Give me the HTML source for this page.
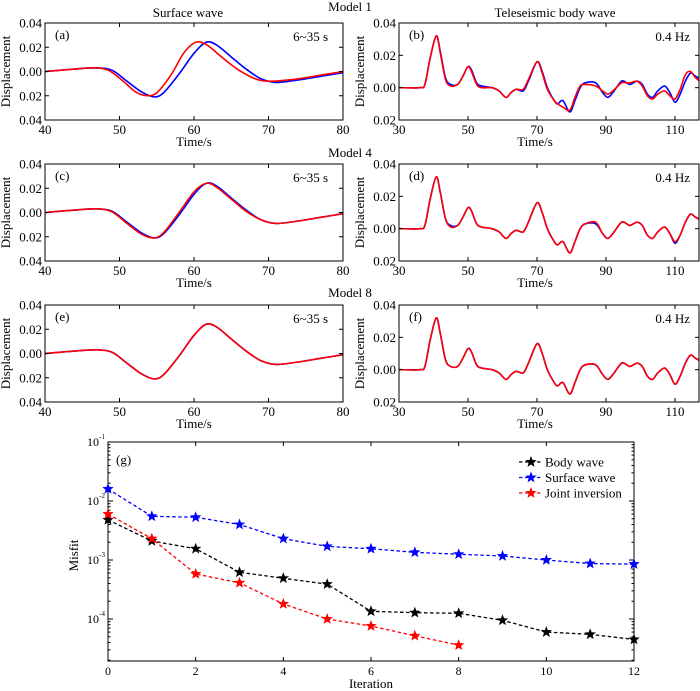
<!DOCTYPE html>
<html><head><meta charset="utf-8">
<style>
body{margin:0;background:#fff;}
svg{display:block;font-family:"Liberation Serif","DejaVu Serif",serif;}
</style></head>
<body>
<svg id="fig" width="700" height="691" viewBox="0 0 700 691"></svg>
<script>
// ---- data ----
const swT   = [40,44,47,49,51,53,54.7,56,58,60,61.6,63,65,67,69,71,74,77,80];
const swBlue= [0,0.002,0.003,0.001,-0.008,-0.017,-0.021,-0.017,-0.002,0.015,0.024,0.022,0.012,0.002,-0.006,-0.009,-0.007,-0.004,-0.001];
const swTRed1=[40,44,46.5,48.5,50.5,52.2,53.8,55.1,57,58.6,60.2,61.7,63.7,65.8,68.2,70.3,74,77,80];
const swRed1= [0,0.002,0.003,0.001,-0.008,-0.017,-0.020,-0.017,-0.002,0.015,0.024,0.022,0.012,0.002,-0.006,-0.008,-0.006,-0.003,0.000];
const swRed4= [0,0.002,0.003,0.0005,-0.009,-0.018,-0.021,-0.016,0.000,0.017,0.024,0.021,0.011,0.001,-0.006,-0.009,-0.007,-0.004,-0.001];
const swRed8= [0,0.002,0.003,0.001,-0.008,-0.017,-0.021,-0.017,-0.002,0.015,0.024,0.022,0.012,0.002,-0.006,-0.009,-0.007,-0.004,-0.001];

const bwT   = [30,36,37.5,39,40.8,42,43.5,45,47,48.5,50,51,52.5,54,57,59,61,62.5,64,66,67.5,70,71.5,73,75,76,77.5,79.5,81,82.5,84,87,89,90.5,92,94.5,96,97,99,100.5,102,103.5,105,107,108.5,110,111.5,113,114.5,116,118,120];
const bwBlue= [0,0,0.002,0.018,0.032,0.022,0.006,0.002,0.002,0.007,0.013,0.011,0.003,0.001,0.000,-0.002,-0.006,-0.003,-0.001,-0.002,0.004,0.016,0.010,0.000,-0.008,-0.010,-0.008,-0.015,-0.008,0.000,0.003,0.003,-0.003,-0.006,-0.003,0.004,0.003,0.002,0.004,0.002,-0.004,-0.006,-0.002,0.001,-0.003,-0.009,-0.004,0.004,0.009,0.007,0.005,0.005];
const bwRed1= [0,0,0.002,0.018,0.032,0.021,0.005,0.001,0.002,0.007,0.013,0.010,0.002,0.000,0.000,-0.002,-0.006,-0.003,-0.001,-0.001,0.005,0.016,0.009,-0.001,-0.008,-0.010,-0.012,-0.014,-0.006,0.001,0.002,0.001,-0.002,-0.004,-0.002,0.003,0.003,0.003,0.004,0.001,-0.005,-0.007,-0.004,-0.002,-0.005,-0.007,-0.001,0.008,0.010,0.006,0.003,0.002];
const bwRed4= [0,0,0.002,0.018,0.032,0.022,0.006,0.001,0.002,0.007,0.013,0.011,0.003,0.001,0.000,-0.002,-0.006,-0.003,-0.001,-0.002,0.004,0.016,0.010,0.000,-0.008,-0.010,-0.008,-0.015,-0.008,0.000,0.003,0.004,-0.003,-0.006,-0.003,0.004,0.003,0.002,0.004,0.002,-0.004,-0.006,-0.002,0.001,-0.003,-0.008,-0.004,0.004,0.009,0.007,0.005,0.005];
const bwRed8= [0,0,0.002,0.018,0.032,0.022,0.006,0.002,0.002,0.007,0.013,0.011,0.003,0.001,0.000,-0.002,-0.006,-0.003,-0.001,-0.002,0.004,0.016,0.010,0.000,-0.008,-0.010,-0.008,-0.015,-0.008,0.000,0.003,0.003,-0.003,-0.006,-0.003,0.004,0.003,0.002,0.004,0.002,-0.004,-0.006,-0.002,0.001,-0.003,-0.009,-0.004,0.004,0.009,0.007,0.005,0.005];

const iterBody  = [0,1,2,3,4,5,6,7,8,9,10,11,12];
const misBody   = [4.8e-3,2.1e-3,1.55e-3,6.2e-4,4.9e-4,3.9e-4,1.35e-4,1.28e-4,1.25e-4,9.5e-5,6e-5,5.5e-5,4.5e-5];
const iterSurf  = [0,1,2,3,4,5,6,7,8,9,10,11,12];
const misSurf   = [1.6e-2,5.5e-3,5.3e-3,4.0e-3,2.3e-3,1.7e-3,1.55e-3,1.35e-3,1.25e-3,1.17e-3,1.0e-3,8.7e-4,8.5e-4];
const iterJoint = [0,1,2,3,4,5,6,7,8];
const misJoint  = [6e-3,2.3e-3,5.8e-4,4.1e-4,1.8e-4,1.0e-4,7.6e-5,5.2e-5,3.6e-5];

const swTicks = [40,50,60,70,80];
const bwTicks = [30,50,70,90,110];
const swYTicks = [0.04,0.02,0,-0.02,-0.04];
const swYLabels = ["0.04","0.02","0.00","0.02","0.04"];
const bwYTicks = [0.04,0.02,0,-0.02];
const bwYLabels = ["0.04","0.02","0.00","0.02"];
const iterTicks = [0,2,4,6,8,10,12];
const misExp = [-1,-2,-3,-4];

// ---- helpers ----
const NS="http://www.w3.org/2000/svg";
const svg=document.getElementById('fig');
function mk(tag,attrs,parent){const e=document.createElementNS(NS,tag);for(const k in attrs)e.setAttribute(k,attrs[k]);(parent||svg).appendChild(e);return e;}
function txt(s,x,y,size,anchor,parent,rot){const t=mk('text',{x:x,y:y,'font-size':size,'text-anchor':anchor||'middle',fill:'#000'},parent);if(rot)t.setAttribute('transform','rotate(-90 '+x+' '+y+')');t.textContent=s;return t;}
function lin(d0,d1,r0,r1){return v=>r0+(v-d0)*(r1-r0)/(d1-d0);}
function smooth(xs,ys){let p=xs.map((x,i)=>[x,ys[i]]);let d='M'+p[0][0].toFixed(2)+','+p[0][1].toFixed(2);for(let i=0;i<p.length-1;i++){const a=p[Math.max(0,i-1)],b=p[i],c=p[i+1],e=p[Math.min(p.length-1,i+2)];const c1=[b[0]+(c[0]-a[0])/6,b[1]+(c[1]-a[1])/6],c2=[c[0]-(e[0]-b[0])/6,c[1]-(e[1]-b[1])/6];d+='C'+c1[0].toFixed(2)+','+c1[1].toFixed(2)+' '+c2[0].toFixed(2)+','+c2[1].toFixed(2)+' '+c[0].toFixed(2)+','+c[1].toFixed(2);}return d;}

let clipId=0;
function wavePanel(cfg){
  const g=mk('g',{});
  
  
  const {x0,x1,y0,y1}=cfg;
  const sx=lin(cfg.xd[0],cfg.xd[1],x0,cfg.xEnd);
  const sy=lin(cfg.yd[0],cfg.yd[1],y0,y1);
  const cid='c'+(clipId++);
  const cp=mk('clipPath',{id:cid},g);mk('rect',{x:x0,y:y0,width:x1-x0,height:y1-y0},cp);
  const lg=mk('g',{'clip-path':'url(#'+cid+')'},g);
  cfg.series.forEach(s=>{
    const p=mk('path',{d:smooth(s.t.map(sx),s.v.map(sy)),fill:'none',stroke:s.c,'stroke-width':1.6},lg);
    
    
  });
  mk('rect',{x:x0,y:y0,width:x1-x0,height:y1-y0,fill:'none',stroke:'#000','stroke-width':1},g);
  cfg.xt.forEach(v=>{const x=sx(v);mk('line',{x1:x,x2:x,y1:y1,y2:y1-4,stroke:'#000'},g);mk('line',{x1:x,x2:x,y1:y0,y2:y0+4,stroke:'#000'},g);txt(String(v),x,y1+14,13,'middle',g);});
  cfg.yt.forEach((v,i)=>{const y=sy(v);mk('line',{x1:x0,x2:x0+4,y1:y,y2:y,stroke:'#000'},g);mk('line',{x1:x1,x2:x1-4,y1:y,y2:y,stroke:'#000'},g);txt(cfg.yl[i],x0-3,y+4.5,13,'end',g);});
  txt('Time/s',(x0+Math.min(x1,700))/2-(cfg.xEnd>700?14:0),y1+26,13,'middle',g);
  txt('Displacement',x0-35,(y0+y1)/2,13,'middle',g,true);
  txt(cfg.lab,x0+10,y0+16,13,'start',g);
  txt(cfg.band,cfg.bandX,y0+18,13,'end',g);
  return g;
}
const rows=[23,164,305], H=97;
const sets=[[swRed1,bwRed1,'(a)','(b)',swTRed1],[swRed4,bwRed4,'(c)','(d)',swT],[swRed8,bwRed8,'(e)','(f)',swT]];
rows.forEach((ry,i)=>{
  wavePanel({name:'surface-wave-panel-'+(i+1),x0:45,x1:343,xEnd:343,y0:ry,y1:ry+H,xd:[40,80],yd:[0.04,-0.04],
    series:[{t:swT,v:swBlue,c:'#0000ff',n:'surface-observed-line'},{t:sets[i][4],v:sets[i][0],c:'#ff0000',n:'surface-synthetic-line'}],
    xt:swTicks,yt:swYTicks,yl:swYLabels,lab:sets[i][2],band:'6~35 s',bandX:328});
  wavePanel({name:'body-wave-panel-'+(i+1),x0:399,x1:699,xEnd:709.5,y0:ry,y1:ry+H,xd:[30,120],yd:[0.04,-0.02],
    series:[{t:bwT,v:bwBlue,c:'#0000ff',n:'body-observed-line'},{t:bwT,v:sets[i][1],c:'#ff0000',n:'body-synthetic-line'}],
    xt:bwTicks,yt:bwYTicks,yl:bwYLabels,lab:sets[i][3],band:'0.4 Hz',bandX:690});
});
txt('Surface wave',188,17,13,'middle');
txt('Teleseismic body wave',555,17,13,'middle');
[['Model 1',11],['Model 4',157],['Model 8',297]].forEach(m=>{const t=txt(m[0],350,m[1],13,'middle');});

// ---- misfit panel ----
const gx0=108,gx1=634,gy0=442,gy1=661;
const mx=lin(0,12,gx0,gx1);
const my=v=>gy0+(-1-Math.log10(v))*59;
const gg=mk('g',{});


mk('rect',{x:gx0,y:gy0,width:gx1-gx0,height:gy1-gy0,fill:'none',stroke:'#000'},gg);
iterTicks.forEach(v=>{const x=mx(v);mk('line',{x1:x,x2:x,y1:gy1,y2:gy1-4,stroke:'#000'},gg);mk('line',{x1:x,x2:x,y1:gy0,y2:gy0+4,stroke:'#000'},gg);txt(String(v),x,gy1+14,12,'middle',gg);});
misExp.forEach(e=>{const y=my(Math.pow(10,e));mk('line',{x1:gx0,x2:gx0+5,y1:y,y2:y,stroke:'#000'},gg);mk('line',{x1:gx1,x2:gx1-5,y1:y,y2:y,stroke:'#000'},gg);
  txt('10',gx0-9,y+4,12,'end',gg);txt(String(e),gx0-3,y-3,7,'end',gg);});
for(let e=-1;e>=-4;e--){for(let k=2;k<=9;k++){const v=k*Math.pow(10,e-1);const y=my(v);if(y>gy1||y<gy0)continue;mk('line',{x1:gx0,x2:gx0+2.5,y1:y,y2:y,stroke:'#000'},gg);mk('line',{x1:gx1,x2:gx1-2.5,y1:y,y2:y,stroke:'#000'},gg);}}
txt('Iteration',(gx0+gx1)/2,gy1+27,13,'middle',gg);
txt('Misfit',gx0-30,(gy0+gy1)/2+4,13,'middle',gg,true);
txt('(g)',gx0+8,gy0+22,13,'start',gg);
function star(cx,cy,r,c,parent){let pts=[];for(let i=0;i<10;i++){const a=-Math.PI/2+i*Math.PI/5;const rr=i%2?r*0.42:r;pts.push((cx+rr*Math.cos(a)).toFixed(2)+','+(cy+rr*Math.sin(a)).toFixed(2));}const p=mk('polygon',{points:pts.join(' '),fill:c},parent);return p;}
const series=[[iterBody,misBody,'#000','body-wave-series','Body wave'],[iterSurf,misSurf,'#0000ff','surface-wave-series','Surface wave'],[iterJoint,misJoint,'#ff0000','joint-inversion-series','Joint inversion']];
series.forEach((s,si)=>{
  const sg=mk('g',{},gg);
  
  
  mk('polyline',{points:s[0].map((x,i)=>mx(x).toFixed(2)+','+my(s[1][i]).toFixed(2)).join(' '),fill:'none',stroke:s[2],'stroke-width':1.3,'stroke-dasharray':'3.5,2.5'},sg);
  s[0].forEach((x,i)=>star(mx(x),my(s[1][i]),6,s[2],sg));
  const ly=462+si*15.5;
  const le=mk('g',{},gg);
  
  
  mk('line',{x1:519,x2:543,y1:ly,y2:ly,stroke:s[2],'stroke-width':1.3,'stroke-dasharray':'3.5,2.5'},le);
  star(531,ly,6,s[2],le);
  txt(s[4],545,ly+4.5,13,'start',le);
});
</script>
</body></html>
